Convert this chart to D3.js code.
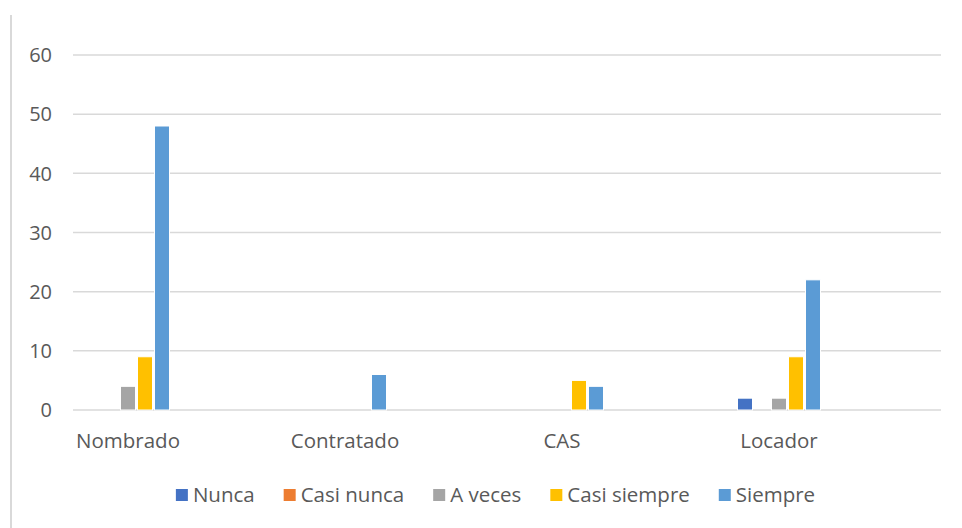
<!DOCTYPE html>
<html><head><meta charset="utf-8">
<script src="https://cdn.jsdelivr.net/npm/d3@7"></script>
<style>body{margin:0;background:#fff}svg{display:block}text{font-family:"Open Sans",sans-serif;fill:#595959}</style>
</head><body>
<svg id="c" width="962" height="528"></svg>
<script>
const categories = ["Nombrado", "Contratado", "CAS", "Locador"];
const seriesNames = ["Nunca", "Casi nunca", "A veces", "Casi siempre", "Siempre"];
const seriesColors = ["#4472C4", "#ED7D31", "#A5A5A5", "#FFC000", "#5B9BD5"];
const nunca = [0, 0, 0, 2];
const casiNunca = [0, 0, 0, 0];
const aVeces = [4, 0, 0, 2];
const casiSiempre = [9, 0, 5, 9];
const siempre = [48, 6, 4, 22];
const yTicks = [0, 10, 20, 30, 40, 50, 60];

const seriesValues = [nunca, casiNunca, aVeces, casiSiempre, siempre];
const svg = d3.select("#c");

svg.append("line").attr("x1", 11).attr("x2", 11).attr("y1", 15).attr("y2", 528)
  .attr("stroke", "#d9d9d9").attr("stroke-width", 2);

const y = d3.scaleLinear().domain([0, 60]).range([410, 55]);
const gridX0 = 73, gridX1 = 941;
const x = d3.scaleBand().domain(categories).range([19.5, 887.5]);
const xs = d3.scaleBand().domain(seriesNames).range([-42.5, 42.5]);

svg.append("g").selectAll("line").data(yTicks).join("line")
  .attr("x1", gridX0).attr("x2", gridX1)
  .attr("y1", d => y(d)).attr("y2", d => y(d))
  .attr("stroke", "#d9d9d9").attr("stroke-width", 1.5);

svg.append("g").selectAll("text").data(yTicks).join("text")
  .attr("x", 52).attr("y", d => y(d)).attr("dy", "0.36em")
  .attr("text-anchor", "end").attr("font-size", 20).text(d => d);

const barData = [];
categories.forEach((c, i) => seriesNames.forEach((s, j) => {
  barData.push({c, s, v: seriesValues[j][i], color: seriesColors[j]});
}));
svg.append("g").selectAll("rect").data(barData.filter(d => d.v > 0)).join("rect")
  .attr("x", d => x(d.c) + x.bandwidth() / 2 + xs(d.s) + 1)
  .attr("width", xs.bandwidth() - 2)
  .attr("y", d => y(d.v))
  .attr("height", d => y(0) - y(d.v))
  .attr("fill", d => d.color)
  .attr("stroke", "#fff").attr("stroke-width", 1);

svg.append("g").selectAll("text").data(categories).join("text")
  .attr("x", d => x(d) + x.bandwidth() / 2).attr("y", 448)
  .attr("text-anchor", "middle").attr("font-size", 20.5).text(d => d);

const lg = svg.append("g");
let cx = 0;
const gap = 29;
seriesNames.forEach((s, j) => {
  const g = lg.append("g").attr("transform", `translate(${cx},0)`);
  g.append("rect").attr("x", 0).attr("y", -6).attr("width", 12).attr("height", 12).attr("fill", seriesColors[j]);
  const t = g.append("text").attr("x", 17).attr("y", 0).attr("dy", "0.36em").attr("font-size", 20.5).text(s);
  cx += 17 + t.node().getComputedTextLength() + gap;
});
const totalW = cx - gap;
lg.attr("transform", `translate(${495.5 - totalW / 2},495)`);
</script>
</body></html>
